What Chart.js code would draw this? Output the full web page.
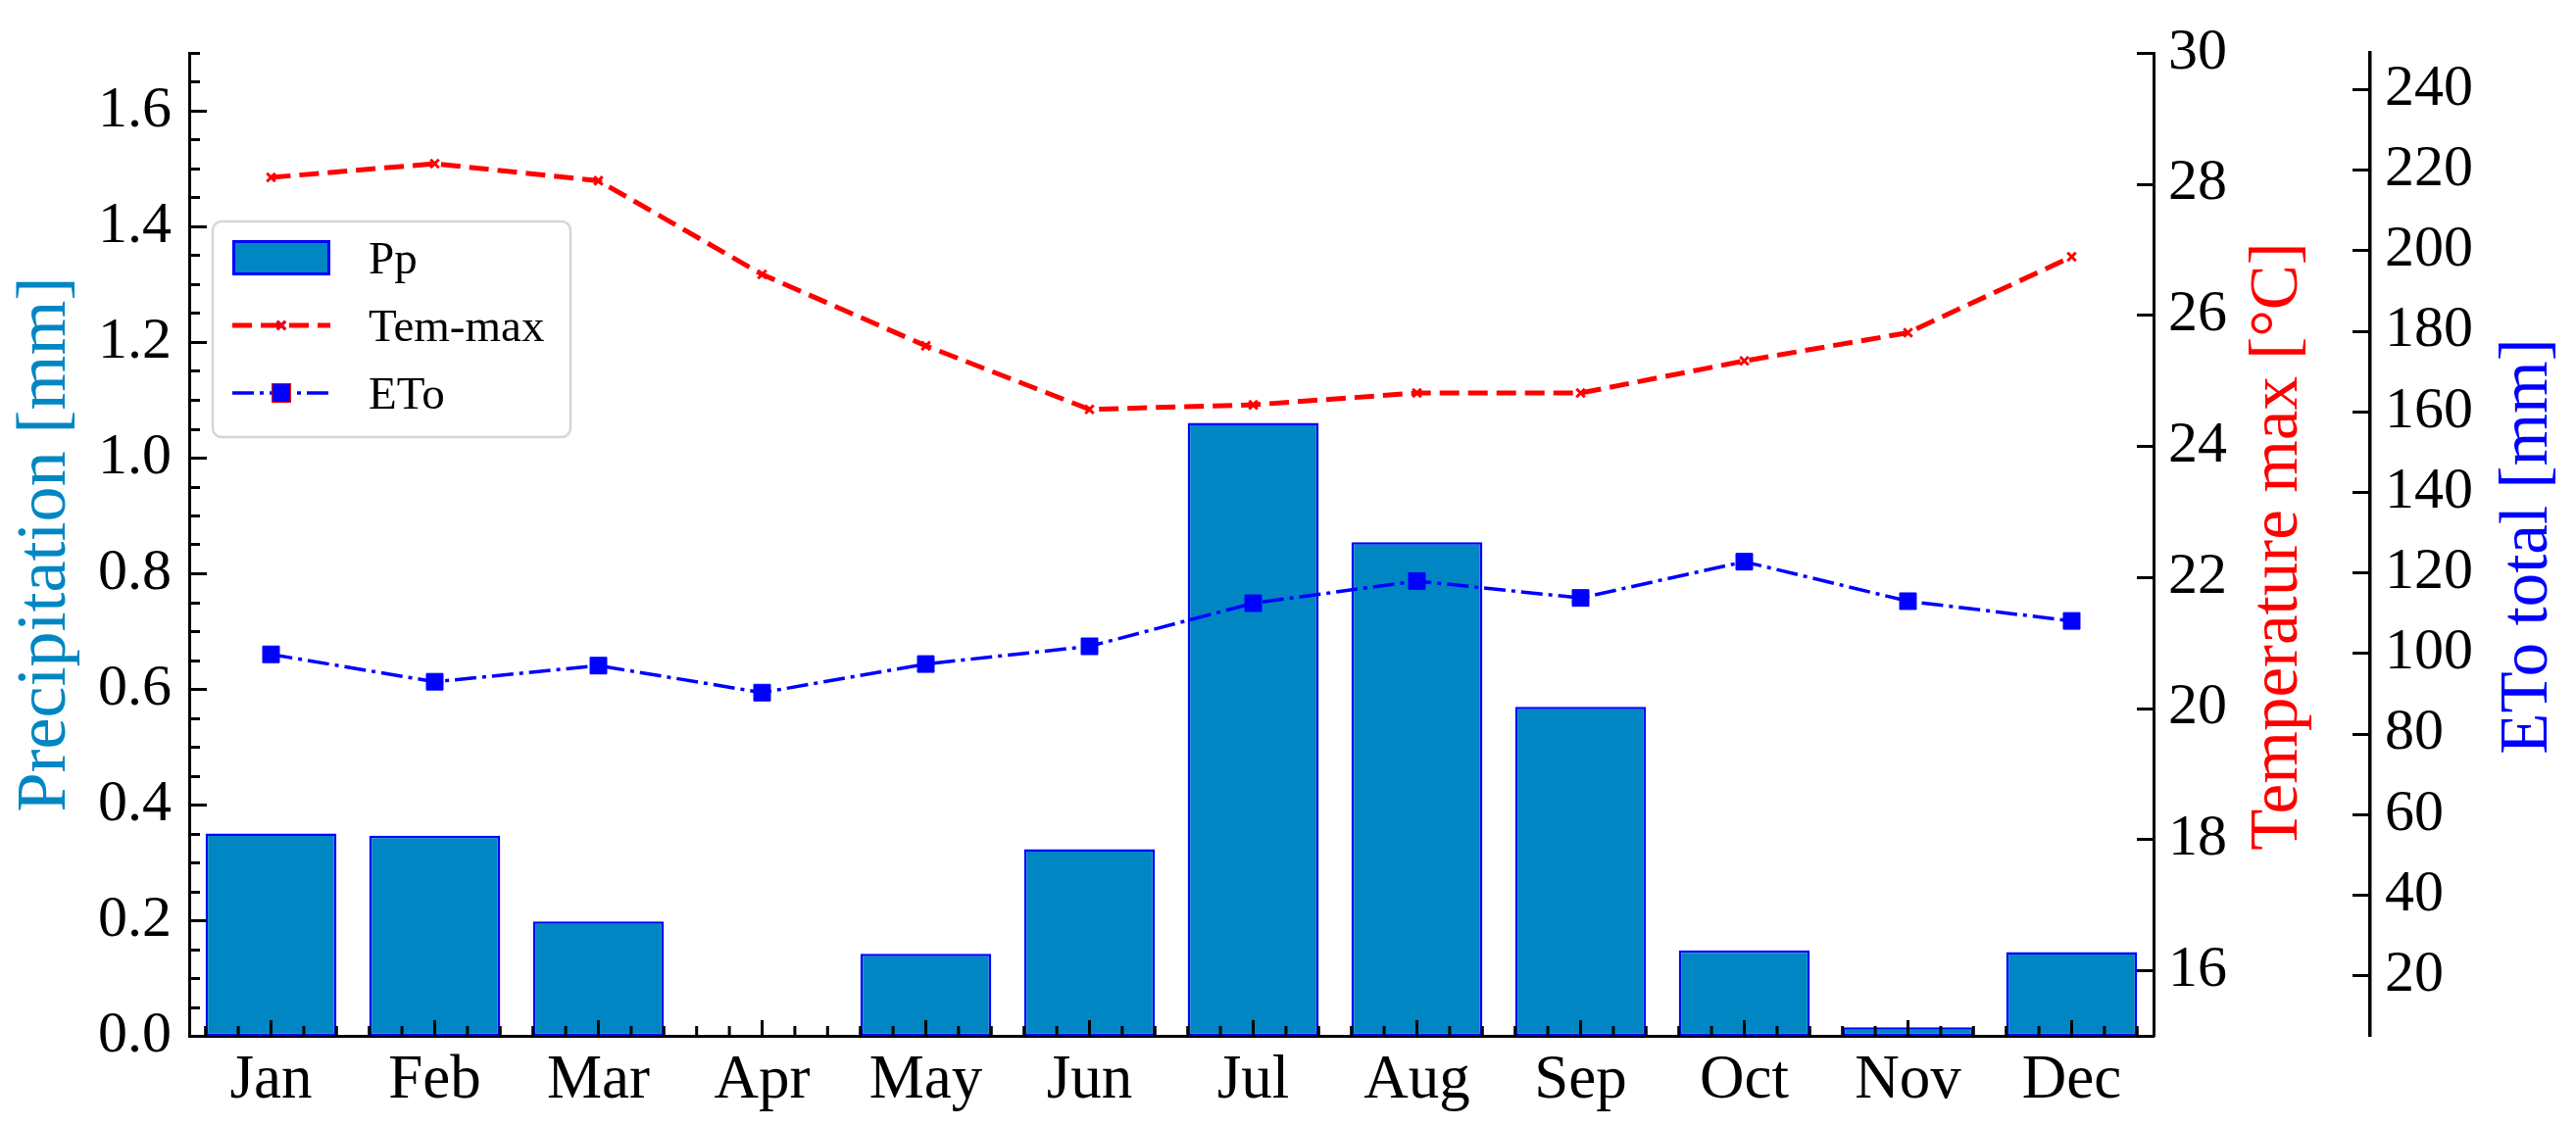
<!DOCTYPE html>
<html><head><meta charset="utf-8">
<script src="https://cdn.jsdelivr.net/npm/chart.js@4.4.1/dist/chart.umd.min.js"></script>
<style>html,body{margin:0;padding:0;background:#fff;}canvas{display:block}</style>
</head><body>
<canvas id="c" width="2628" height="1149"></canvas>
<script>
const months = ['Jan','Feb','Mar','Apr','May','Jun','Jul','Aug','Sep','Oct','Nov','Dec'];
const precipitation = [0.35, 0.346, 0.198, 0, 0.142, 0.323, 1.06, 0.854, 0.569, 0.148, 0.015, 0.145];
const temMax = [28.10, 28.31, 28.05, 26.62, 25.53, 24.56, 24.63, 24.81, 24.81, 25.30, 25.73, 26.89];
const eto = [99.7, 92.9, 96.9, 90.2, 97.3, 101.7, 112.4, 117.9, 113.7, 122.7, 112.9, 108.0];
const precipTicks = [0, 0.2, 0.4, 0.6, 0.8, 1.0, 1.2, 1.4, 1.6];
const tempTicks = [16, 18, 20, 22, 24, 26, 28, 30];
const etoTicks = [20, 40, 60, 80, 100, 120, 140, 160, 180, 200, 220, 240];

const FONT = 'Liberation Serif';
const BAR_FILL = '#0087c3';

const setTicks = arr => scale => { scale.ticks = arr.map(v => ({value: v})); };

const tickPlugin = {
  id: 'manualTicks',
  afterDraw(chart) {
    const ctx = chart.ctx;
    const {x, y, y1, y2} = chart.scales;
    ctx.save();
    ctx.strokeStyle = '#000';
    ctx.lineWidth = 3;
    ctx.lineCap = 'butt';
    const line = (a, b, c, d) => { ctx.beginPath(); ctx.moveTo(a, b); ctx.lineTo(c, d); ctx.stroke(); };
    // left axis: major + minor ticks pointing inward
    const lx = y.right;
    for (let k = 0; k <= 34; k++) {
      const v = k * 0.05;
      const py = Math.round(y.getPixelForValue(v)) + 0.5;
      const len = (k % 4 === 0) ? 18 : 11;
      line(lx, py, lx + len, py);
    }
    // x axis ticks pointing up
    const p0 = x.getPixelForValue(0), period = x.getPixelForValue(1) - p0;
    const by = x.top;
    months.forEach((m, i) => {
      const c = x.getPixelForValue(i);
      line(c, by, c, by - 16);
      [-0.4, -0.2, 0.2, 0.4].forEach(o => {
        const px = c + o * period;
        line(px, by, px, by - 10);
      });
    });
    // temperature axis ticks (pointing left, inside)
    tempTicks.forEach(v => {
      const py = Math.round(y1.getPixelForValue(v)) + 0.5;
      line(y1.left, py, y1.left - 17, py);
    });
    // ETo axis ticks (pointing left)
    etoTicks.forEach(v => {
      const py = Math.round(y2.getPixelForValue(v)) + 0.5;
      line(y2.left, py, y2.left - 18, py);
    });
    ctx.restore();
  }
};

function vtext(ctx, text, x, y, size, color) {
  ctx.save();
  ctx.translate(x, y);
  ctx.rotate(-Math.PI / 2);
  ctx.font = size + 'px "' + FONT + '"';
  ctx.fillStyle = color;
  ctx.textAlign = 'center';
  ctx.textBaseline = 'middle';
  ctx.fillText(text, 0, 0);
  ctx.restore();
}

const titlePlugin = {
  id: 'axisTitles',
  afterDraw(chart) {
    const ctx = chart.ctx;
    const {y, y1, y2} = chart.scales;
    const cy = (chart.chartArea.top + chart.chartArea.bottom) / 2;
    vtext(ctx, 'Precipitation [mm]', y.left + 47, cy, 72, BAR_FILL);
    vtext(ctx, 'Temperature max [°C]', y1.right - 93, cy + 2, 69, '#ff0000');
    vtext(ctx, 'ETo total [mm]', y2.right - 48, cy + 2, 69, '#0000ff');
  }
};

const legendPlugin = {
  id: 'boxLegend',
  afterDraw(chart) {
    const ctx = chart.ctx;
    const ds = chart.data.datasets;
    const bx = 217, byy = 226, bw = 365, bh = 220, r = 9;
    ctx.save();
    ctx.beginPath();
    ctx.roundRect(bx, byy, bw, bh, r);
    ctx.fillStyle = 'rgba(255,255,255,0.85)';
    ctx.fill();
    ctx.lineWidth = 2.5;
    ctx.strokeStyle = '#d6d6d6';
    ctx.stroke();
    const hx0 = 237, hx1 = 337, tx = 376;
    const rows = [263, 332, 401];
    ctx.font = '47px "' + FONT + '"';
    ds.forEach((d, i) => {
      const ry = rows[i];
      if (d.type === 'bar') {
        ctx.fillStyle = d.backgroundColor;
        ctx.fillRect(hx0, ry - 18, hx1 - hx0, 36);
        ctx.lineWidth = 3;
        ctx.strokeStyle = d.borderColor;
        ctx.strokeRect(hx0 + 1.5, ry - 16.5, hx1 - hx0 - 3, 33);
      } else {
        ctx.save();
        ctx.lineWidth = d.borderWidth;
        ctx.strokeStyle = d.borderColor;
        ctx.setLineDash(d.borderDash);
        ctx.beginPath(); ctx.moveTo(hx0, ry); ctx.lineTo(hx1, ry); ctx.stroke();
        ctx.restore();
        Chart.helpers.drawPoint(ctx, {
          pointStyle: d.pointStyle, radius: d.pointRadius, rotation: 0,
          borderWidth: d.pointBorderWidth
        }, (hx0 + hx1) / 2, ry);
        ctx.fillStyle = d.pointBackgroundColor; ctx.strokeStyle = d.borderColor;
        ctx.lineWidth = d.pointBorderWidth;
        ctx.beginPath();
        Chart.helpers.drawPoint(ctx, {pointStyle: d.pointStyle, radius: d.pointRadius, rotation: 0, borderWidth: d.pointBorderWidth}, (hx0 + hx1) / 2, ry);
      }
      ctx.fillStyle = '#000';
      ctx.textAlign = 'left';
      ctx.textBaseline = 'alphabetic';
      ctx.fillText(d.label, tx, ry + 15.5);
    });
    ctx.restore();
  }
};

const tickFont = {family: FONT, size: 60};

new Chart(document.getElementById('c'), {
  data: {
    labels: months,
    datasets: [
      {type: 'bar', label: 'Pp', data: precipitation, yAxisID: 'y',
       backgroundColor: BAR_FILL, borderColor: '#0000ff', borderWidth: 2.5,
       borderSkipped: false, barPercentage: 0.8, categoryPercentage: 1.0, order: 3},
      {type: 'line', label: 'Tem-max', data: temMax, yAxisID: 'y1',
       borderColor: '#ff0000', borderWidth: 5, borderDash: [20, 9], tension: 0,
       pointStyle: 'crossRot', pointRadius: 6, pointBorderWidth: 3,
       pointBackgroundColor: '#ff0000', pointBorderColor: '#ff0000', fill: false, order: 2},
      {type: 'line', label: 'ETo', data: eto, yAxisID: 'y2',
       borderColor: '#0000ff', borderWidth: 3.5, borderDash: [22, 6, 4, 6], tension: 0,
       pointStyle: 'rect', pointRadius: 12, pointBorderWidth: 1,
       pointBackgroundColor: '#0000ff', pointBorderColor: '#0000ff', fill: false, order: 1}
    ]
  },
  options: {
    responsive: false,
    animation: false,
    devicePixelRatio: 1,
    layout: {padding: {top: 50, left: 0, right: 0, bottom: 0}},
    plugins: {legend: {display: false}, tooltip: {enabled: false}},
    scales: {
      x: {
        type: 'category', offset: true,
        grid: {display: false, drawTicks: false},
        border: {display: true, color: '#000', width: 3},
        ticks: {font: {family: FONT, size: 63}, color: '#000', padding: 9, maxRotation: 0, autoSkip: false},
        afterFit: s => { s.height = 92; }
      },
      y: {
        type: 'linear', position: 'left', min: 0, max: 1.7,
        grid: {display: false, drawTicks: false},
        border: {display: true, color: '#000', width: 3},
        afterBuildTicks: setTicks(precipTicks),
        ticks: {font: tickFont, color: '#000', padding: 18, callback: v => Number(v).toFixed(1)},
        afterFit: s => { s.width = 193; }
      },
      y1: {
        type: 'linear', position: 'right', min: 15, max: 30,
        grid: {display: false, drawTicks: false},
        border: {display: true, color: '#000', width: 3},
        afterBuildTicks: setTicks(tempTicks),
        ticks: {font: tickFont, color: '#000', padding: 15},
        afterFit: s => { s.width = 221; }
      },
      y2: {
        type: 'linear', position: 'right', min: 5, max: 249,
        grid: {display: false, drawTicks: false},
        border: {display: true, color: '#000', width: 3.5},
        afterBuildTicks: setTicks(etoTicks),
        ticks: {font: tickFont, color: '#000', padding: 15},
        afterFit: s => { s.width = 210; }
      }
    }
  },
  plugins: [tickPlugin, titlePlugin, legendPlugin]
});
</script>
</body></html>
